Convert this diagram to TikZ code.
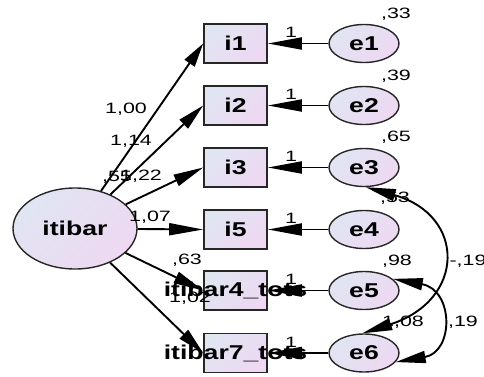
\documentclass[tikz,border=0pt]{standalone}
\usepackage{fontspec}
\setmainfont{Liberation Sans}
\newfontfamily\varfont[FakeStretch=1.33]{Liberation Sans}
\newfontfamily\numfont[FakeStretch=1.43]{Liberation Sans}
\usetikzlibrary{arrows.meta,shapes.geometric}
\definecolor{fillA}{RGB}{224,229,242}
\definecolor{fillB}{RGB}{238,216,242}
\begin{document}
\begin{tikzpicture}[x=1pt,y=-1pt,
  shaded/.style={top color=fillA,bottom color=fillB,shading angle=45},
  obs/.style={draw=black!85,line width=1.6pt,shaded,rectangle,
    minimum width=63pt,minimum height=39pt,inner sep=0pt},
  err/.style={draw=black!85,line width=1.4pt,shaded,ellipse,
    minimum width=70pt,minimum height=38pt,inner sep=0pt,
    font=\varfont\bfseries\fontsize{20}{20}\selectfont},
  latent/.style={draw=black!85,line width=1.4pt,shaded,ellipse,
    minimum width=124pt,minimum height=81pt,inner sep=0pt,
    font=\varfont\bfseries\fontsize{20}{20}\selectfont},
  vartext/.style={inner sep=0pt,font=\varfont\bfseries\fontsize{20}{20}\selectfont},
  est/.style={inner sep=0pt,font=\numfont\fontsize{15}{15}\selectfont},
  path/.style={line width=1.9pt,-{Triangle[length=#1,width=12pt]}},
  covar/.style={line width=1.9pt,
    {Triangle[length=30pt,width=12pt]}-{Triangle[length=30pt,width=12pt]}}
]
\useasboundingbox (0,0) rectangle (484,377);

% observed indicators
\node[obs,label={[vartext]center:i1}] (i1) at (235.5,43.5) {};
\node[obs,label={[vartext]center:i2}] (i2) at (235.5,105.5) {};
\node[obs,label={[vartext]center:i3}] (i3) at (235.5,167.5) {};
\node[obs,label={[vartext]center:i5}] (i5) at (235.5,229.5) {};
\node[obs,label={[vartext]center:itibar4\_tots}] (i4t) at (235.5,290.5) {};
\node[obs,label={[vartext]center:itibar7\_tots}] (i7t) at (235.5,353) {};

% error terms
\node[err] (e1) at (364,43.5) {e1};
\node[err] (e2) at (364,105.5) {e2};
\node[err] (e3) at (364,167.5) {e3};
\node[err] (e4) at (364,229.5) {e4};
\node[err] (e5) at (364,290.5) {e5};
\node[err] (e6) at (364,353) {e6};

% latent factor
\node[latent] (itibar) at (75,228.5) {itibar};

% estimates
\node[est] (v1) at (396,14) {,33};
\node[est] (v2) at (396,76) {,39};
\node[est] (v3) at (396,137) {,65};
\node[est] (v4) at (395,198) {,53};
\node[est] (v5) at (397,261) {,98};
\node[est] (v6) at (403,322) {1,08};
\node[est] (vf) at (117,177) {,55};
\node[est] (c36) at (468,261) {-,19};
\node[est] (c56) at (463,322) {,19};
\node[est] (w1) at (126,109) {1,00};
\node[est] (w2) at (131,141) {1,14};
\node[est] (w3) at (141,176) {1,22};
\node[est] (w5) at (150,217) {1,07};
\node[est] (w4) at (187,260) {,63};
\node[est] (w7) at (190,298) {1,02};
\foreach \r/\y in {1/32.5,2/94.5,3/156.5,4/218.5,5/279.5,6/342}
  \node[est] (one\r) at (291,\y) {1};

% factor loadings
\draw[path=24pt] (itibar) -- (i1.west);
\draw[path=27pt] (itibar) -- (i2.west);
\draw[path=30pt] (itibar) -- (i3.west);
\draw[path=34pt] (itibar) -- (i5.west);
\draw[path=30pt] (itibar) -- (i4t.west);
\draw[path=27pt] (itibar) -- (i7t.west);

% error paths
\draw[path=34pt] (e1) -- (i1.east);
\draw[path=34pt] (e2) -- (i2.east);
\draw[path=34pt] (e3) -- (i3.east);
\draw[path=34pt] (e4) -- (i5.east);
\draw[path=34pt] (e5) -- (i4t.east);
\draw[path=34pt] (e6) -- (i7t.east);

% error covariances
\draw[covar] (e3.-85) .. controls (466,215) and (466,300) .. (e6.95);
\draw[covar] (e5.22) .. controls (454,290) and (454,352) .. (e6.-16);
\end{tikzpicture}
\end{document}
